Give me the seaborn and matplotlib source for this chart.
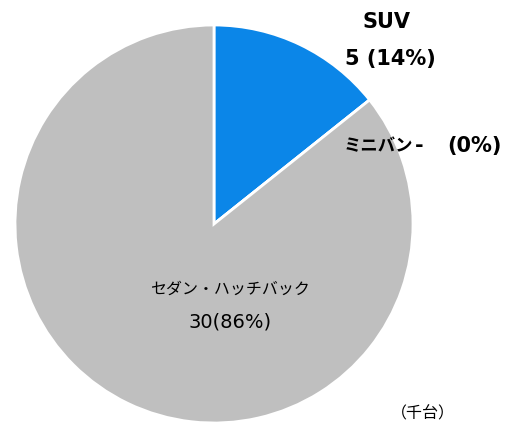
import matplotlib.pyplot as plt
import seaborn as sns

# data (千台)
categories = ["SUV", "ミニバン", "セダン・ハッチバック"]
values = [5, 0, 30]
colors = ["#0B86E8", "#FFFFFF", "#BFBFBF"]

sns.set_style("white")
plt.rcParams['font.family'] = ['DejaVu Sans', 'Noto Sans CJK JP']
plt.rcParams['text.color'] = 'black'
JP = ['Noto Sans CJK JP', 'DejaVu Sans']

fig = plt.figure(figsize=(5.12, 4.25), dpi=100)
ax = fig.add_axes([15 / 512, 2 / 425, 398 / 512, 398 / 425])
ax.pie(values, colors=colors, startangle=90, counterclock=False,
       wedgeprops=dict(edgecolor="white", linewidth=2))
ax.set_xlim(-1, 1)
ax.set_ylim(-1, 1)
ax.set_aspect("equal")
ax.axis("off")

total = sum(values)
pct = [round(v / total * 100) for v in values]

def fmt(v):
    return "-" if v == 0 else str(v)

W, H = 512, 425
def fx(x):
    return x / W
def fy(y):
    return 1 - y / H

# SUV
fig.text(fx(387), fy(22), categories[0], ha="center", va="center",
         fontsize=15, fontweight="bold")
fig.text(fx(390), fy(59), f"{fmt(values[0])} ({pct[0]}%)", ha="center", va="center",
         fontsize=15, fontweight="bold")
# ミニバン
fig.text(fx(344), fy(146), categories[1], ha="left", va="center",
         fontsize=12.5, fontweight="bold", family=JP)
fig.text(fx(419), fy(146), fmt(values[1]), ha="center", va="center",
         fontsize=15, fontweight="bold")
fig.text(fx(447), fy(146), f"({pct[1]}%)", ha="left", va="center",
         fontsize=15, fontweight="bold")
# セダン・ハッチバック
fig.text(fx(230), fy(289), categories[2], ha="center", va="center",
         fontsize=11.5, family=JP)
fig.text(fx(230), fy(322), f"{values[2]}({pct[2]}%)", ha="center", va="center",
         fontsize=14)
fig.text(fx(423), fy(414), "（千台）", ha="center", va="center", fontsize=11.5, family=JP)

fig.savefig("out.png", dpi=100)
